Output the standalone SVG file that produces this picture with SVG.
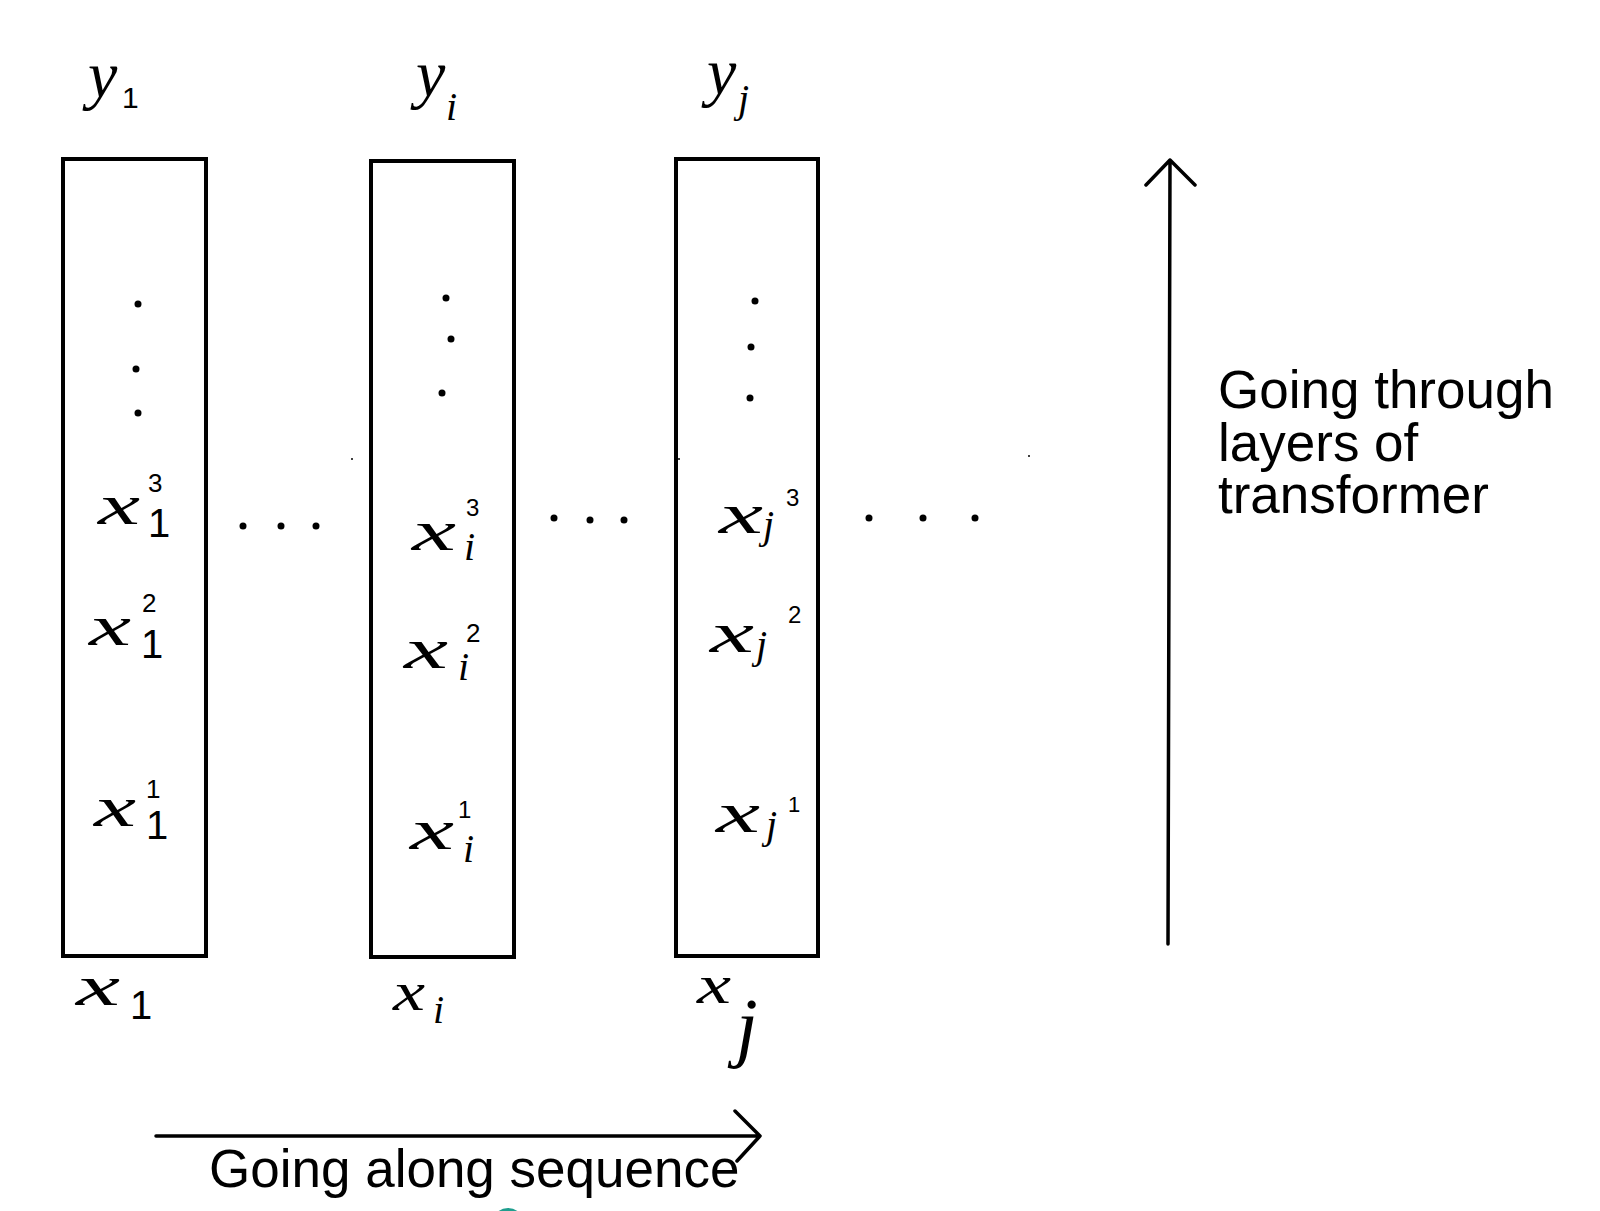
<svg xmlns="http://www.w3.org/2000/svg" width="1600" height="1211" viewBox="0 0 1600 1211">
<style>
.box{fill:none;stroke:#000;stroke-width:4}
.arr{fill:none;stroke:#000;stroke-width:3.5;stroke-linecap:round;stroke-linejoin:round}
.lbl{font-family:"Liberation Sans",Arial,sans-serif;font-size:53px;fill:#000}
.m{font-family:"Liberation Serif","DejaVu Serif",serif;font-style:italic;fill:#000}
.d{font-family:"Liberation Sans","DejaVu Sans",sans-serif;fill:#000}
.dot{fill:#000}
</style>
<rect width="1600" height="1211" fill="#fff"/>

<g id="col1">
  <rect class="box" x="63" y="159" width="143" height="797"/>
  <text class="m" x="88" y="97" font-size="66">y</text>
  <text class="d" x="122" y="108" font-size="30">1</text>
  <circle class="dot" cx="138" cy="304" r="3.5"/>
  <circle class="dot" cx="136" cy="369" r="3.5"/>
  <circle class="dot" cx="138" cy="413" r="3.5"/>
  <text class="m" x="98" y="524" font-size="58" textLength="42" lengthAdjust="spacingAndGlyphs">x</text>
  <text class="d" x="148" y="537" font-size="40">1</text>
  <text class="d" x="148" y="492" font-size="26">3</text>
  <text class="m" x="89" y="645" font-size="58" textLength="42" lengthAdjust="spacingAndGlyphs">x</text>
  <text class="d" x="141" y="658" font-size="40">1</text>
  <text class="d" x="142" y="612" font-size="26">2</text>
  <text class="m" x="94" y="826" font-size="58" textLength="42" lengthAdjust="spacingAndGlyphs">x</text>
  <text class="d" x="146" y="839" font-size="40">1</text>
  <text class="d" x="146" y="798" font-size="26">1</text>
  <text class="m" x="76" y="1005" font-size="58" textLength="44" lengthAdjust="spacingAndGlyphs">x</text>
  <text class="d" x="130" y="1019" font-size="40">1</text>
</g>

<g id="col2">
  <rect class="box" x="371" y="161" width="143" height="796"/>
  <text class="m" x="416" y="96" font-size="66">y</text>
  <text class="m" x="446" y="120" font-size="40">i</text>
  <circle class="dot" cx="446" cy="298" r="3.5"/>
  <circle class="dot" cx="451" cy="339" r="3.5"/>
  <circle class="dot" cx="442" cy="393" r="3.5"/>
  <text class="m" x="412" y="550" font-size="58" textLength="44" lengthAdjust="spacingAndGlyphs">x</text>
  <text class="m" x="464" y="560" font-size="40">i</text>
  <text class="d" x="466" y="516" font-size="24">3</text>
  <text class="m" x="404" y="668" font-size="58" textLength="44" lengthAdjust="spacingAndGlyphs">x</text>
  <text class="m" x="458" y="680" font-size="40">i</text>
  <text class="d" x="466" y="642" font-size="26">2</text>
  <text class="m" x="410" y="849" font-size="58" textLength="44" lengthAdjust="spacingAndGlyphs">x</text>
  <text class="m" x="463" y="862" font-size="40">i</text>
  <text class="d" x="458" y="818" font-size="24">1</text>
  <text class="m" x="393" y="1010" font-size="54" textLength="32" lengthAdjust="spacingAndGlyphs">x</text>
  <text class="m" x="433" y="1023" font-size="40">i</text>
</g>

<g id="col3">
  <rect class="box" x="676" y="159" width="142" height="797"/>
  <text class="m" x="707" y="94" font-size="66">y</text>
  <text class="m" x="738" y="112" font-size="40">j</text>
  <circle class="dot" cx="755" cy="301" r="3.5"/>
  <circle class="dot" cx="751" cy="347" r="3.5"/>
  <circle class="dot" cx="750" cy="398" r="3.5"/>
  <text class="m" x="719" y="533" font-size="58" textLength="44" lengthAdjust="spacingAndGlyphs">x</text>
  <text class="m" x="763" y="538" font-size="40">j</text>
  <text class="d" x="786" y="506" font-size="24">3</text>
  <text class="m" x="710" y="652" font-size="58" textLength="44" lengthAdjust="spacingAndGlyphs">x</text>
  <text class="m" x="756" y="658" font-size="40">j</text>
  <text class="d" x="788" y="623" font-size="24">2</text>
  <text class="m" x="716" y="832" font-size="58" textLength="44" lengthAdjust="spacingAndGlyphs">x</text>
  <text class="m" x="766" y="838" font-size="40">j</text>
  <text class="d" x="788" y="812" font-size="22">1</text>
  <text class="m" x="697" y="1003" font-size="54" textLength="34" lengthAdjust="spacingAndGlyphs">x</text>
  <text class="m" x="736" y="1052" font-size="78">j</text>
</g>

<g id="ellipses">
  <circle class="dot" cx="243" cy="526" r="3.5"/>
  <circle class="dot" cx="281" cy="526" r="3.5"/>
  <circle class="dot" cx="316" cy="526" r="3.5"/>
  <circle class="dot" cx="554" cy="518" r="3.5"/>
  <circle class="dot" cx="590" cy="520" r="3.5"/>
  <circle class="dot" cx="624" cy="520" r="3.5"/>
  <circle class="dot" cx="869" cy="518" r="3.5"/>
  <circle class="dot" cx="923" cy="518" r="3.5"/>
  <circle class="dot" cx="975" cy="518" r="3.5"/>
  <circle class="dot" cx="352" cy="459" r="1"/>
  <circle class="dot" cx="679" cy="459" r="1"/>
  <circle class="dot" cx="1029" cy="456" r="1"/>
</g>

<g id="connectors">
  <path class="arr" d="M1168 944 L1170 160 M1146 185 L1170 160 L1195 185"/>
  <path class="arr" d="M156 1136 L760 1136 M735 1111 L760 1136 L737 1161"/>
</g>

<g id="labels">
  <text class="lbl" x="1218" y="408">Going through</text>
  <text class="lbl" x="1218" y="461">layers of</text>
  <text class="lbl" x="1218" y="513">transformer</text>
  <text class="lbl" x="209" y="1187">Going along sequence</text>
</g>

<circle cx="508" cy="1224" r="16" fill="#1f9e8e"/>
</svg>
